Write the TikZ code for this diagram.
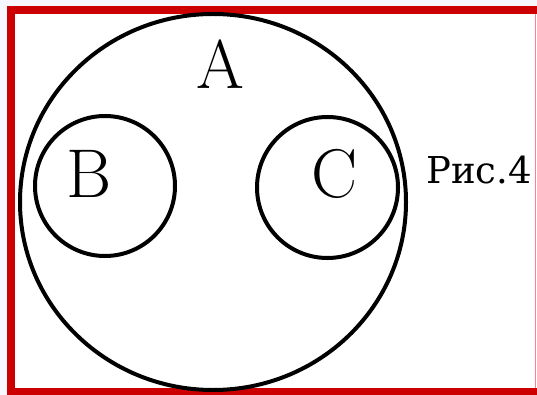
\documentclass[tikz,border=0pt]{standalone}
\usepackage{fontspec}
\newfontfamily\cyrf{DejaVu Serif}
\begin{document}
\begin{tikzpicture}[x=1pt,y=-1pt,
  circ/.style={draw=black,line width=4pt},
  lbl/.style={inner sep=0pt,font=\fontsize{69}{69}\selectfont},
  figcap/.style={inner sep=0pt,font=\cyrf\fontsize{37}{37}\selectfont}]
\useasboundingbox (0,0) rectangle (537,395);
\fill[white!95!blue!60!white] (0,0) rectangle (537,395);
\fill[white] (7,6) rectangle (537,395);
% red frame
\fill[red!80!black] (7,6) rectangle (537,14.5);
\fill[red!80!black] (7,6) rectangle (15,395);
\fill[red!80!black] (7,388) rectangle (537,395);
\draw[red!50!white,line width=1pt] (535,14) -- (535,388);
% circles
\draw[circ] (213,202) ellipse [x radius=193, y radius=188];
\draw[circ] (105,186) circle [radius=70];
\draw[circ] (327.5,187.5) circle [radius=70.5];
% labels
\node[lbl] (A) at (220,64) {A};
\node[lbl] (B) at (89,174) {B};
\node[lbl] (C) at (335,174) {C};
\node[figcap] (R) at (479,170) {Рис.4};
\end{tikzpicture}
\end{document}
